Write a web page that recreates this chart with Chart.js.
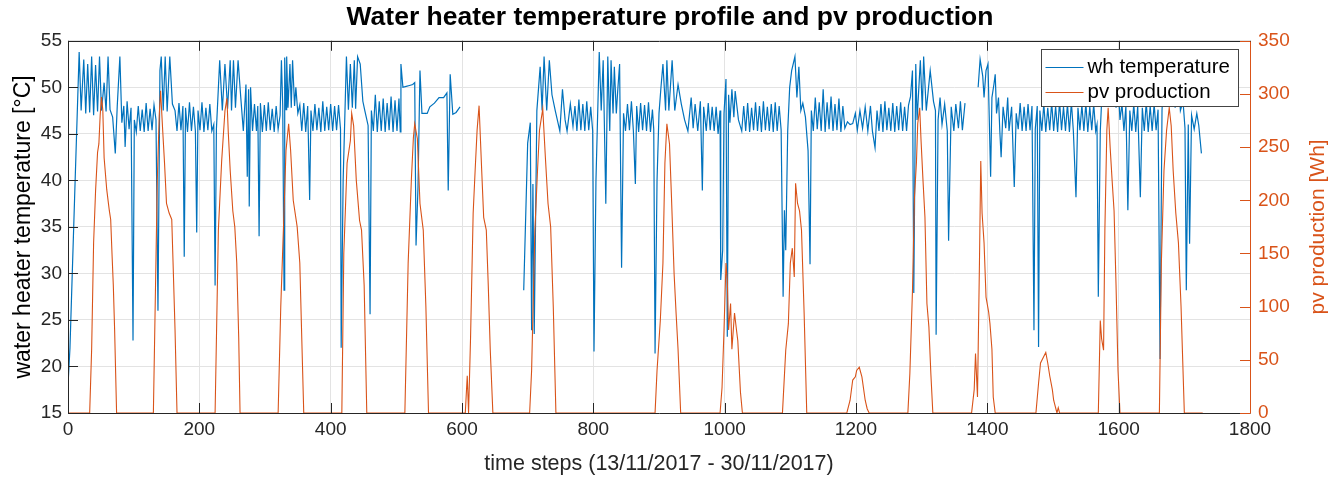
<!DOCTYPE html>
<html>
<head>
<meta charset="utf-8">
<script src="https://cdn.jsdelivr.net/npm/chart.js@4.4.1/dist/chart.umd.min.js"></script>
<style>
  html, body { margin: 0; padding: 0; background: #fff; }
  #whChart { display: block; }
</style>
</head>
<body>
<canvas id="whChart" width="1340" height="477"></canvas>
<script>
// water heater temperature (°C), one entry per time step listed in whSteps
// null marks the periods without logged temperature
const whSteps = [
  0, 3, 10, 17, 20, 24, 27, 30, 33, 36, 39, 42, 45, 48, 51, 55, 58, 61, 64, 68, 72, 75, 79, 82, 85, 87, 90, 93, 96, 99,
  101, 104, 107, 110, 113, 116, 119, 122, 125, 128, 131,
  134, 137, 140, 142, 145, 148, 151, 155, 159, 163, 166, 169, 172, 175, 177, 179, 182, 185, 188, 191, 194, 196, 198,
  201, 204, 207, 210, 213, 216, 219, 222, 224, 226,
  231, 235, 239, 243, 247, 249, 252, 255, 259, 263, 267, 271, 273, 275, 276, 278, 281, 284, 287, 289, 291, 293, 296,
  299, 302, 305, 308, 311, 314, 317, 320,
  323, 325, 327, 329, 330, 332, 333, 335, 338, 340, 342, 345, 347, 350, 353, 356, 359, 362, 365, 368, 370, 373, 376,
  379, 382, 385, 388, 391, 394, 397, 400, 403, 406, 409, 412, 415, 416,
  419, 424, 427, 430, 433, 436, 438, 441, 445, 449, 452, 457, 460, 462, 465, 468, 471, 474, 477, 480, 483, 486, 489,
  492, 495, 498, 501, 504, 506, 507, 510, 515, 520, 525, 528, 530, 533, 536, 539, 547, 551, 558, 565, 572, 577, 579,
  582, 586, 591, 597, 600,
  694, 700, 704, 706, 708, 710, 714, 719, 722, 725, 729, 733, 737, 742, 749, 753, 757, 760, 765, 769, 772, 775, 778,
  781, 784, 787, 790, 793, 796, 799, 801,
  804, 809, 812, 815, 817, 819, 822, 825, 827, 830, 832, 835, 837, 840, 843, 846, 849, 852, 855, 858, 861, 864, 866,
  869, 872, 875, 878, 881, 884, 887, 890, 892, 894, 897,
  900, 903, 906, 910, 912, 915, 920, 924, 929, 934, 939, 944, 949, 952, 955, 959, 963, 966, 968, 972, 975, 978, 981,
  984, 987, 990, 993, 994, 997, 999, 1002, 1004, 1006, 1008, 1011, 1014, 1016, 1021, 1026,
  1029, 1032, 1035, 1038, 1041, 1044, 1047, 1050, 1053, 1056, 1059, 1062, 1065, 1068, 1071, 1074, 1077, 1080, 1083,
  1086, 1089, 1091, 1093, 1096, 1099, 1102, 1107, 1110, 1113, 1116, 1119, 1123, 1127, 1130, 1132, 1135, 1138, 1141,
  1144, 1147, 1150, 1153, 1156, 1159, 1162, 1165, 1168, 1171, 1174, 1177, 1180, 1183, 1187, 1191, 1195, 1199, 1202,
  1206, 1210, 1214, 1218, 1222, 1225, 1229, 1232, 1235, 1238, 1241, 1244, 1247, 1250, 1253, 1256, 1259, 1262, 1265,
  1268, 1271, 1274, 1277, 1280,
  1283, 1286, 1288, 1291, 1293, 1298, 1301, 1303, 1307, 1313, 1318, 1321, 1322, 1325, 1328, 1331, 1335, 1339, 1341,
  1345, 1349, 1352, 1356, 1359, 1362, 1366, 1370,
  1386, 1389, 1393, 1395, 1398, 1401, 1405, 1407, 1410, 1412, 1414, 1417, 1419, 1421, 1424, 1428, 1431, 1433, 1437,
  1441, 1444, 1447, 1450, 1453, 1456, 1459, 1462, 1465, 1468, 1471, 1473, 1476, 1478, 1480, 1483, 1486, 1489, 1492,
  1495, 1498, 1501, 1504, 1507, 1510, 1513, 1516, 1519, 1522, 1525, 1528, 1531, 1535, 1538, 1541, 1544, 1547, 1550,
  1553, 1556, 1559, 1562, 1565, 1567, 1569, 1572,
  1575, 1578, 1582, 1585, 1589, 1592, 1596, 1599, 1602, 1605, 1608, 1611, 1614, 1617, 1620, 1623, 1626, 1629, 1633,
  1636, 1639, 1642, 1645, 1648, 1651, 1654, 1657, 1660, 1663, 1666, 1669, 1672, 1675, 1678, 1682, 1686, 1690, 1694,
  1698, 1701, 1703, 1706, 1708, 1711, 1715, 1719, 1722, 1726
];
const whTemp = [
  18, 22, 38, 53.8, 47.5, 53, 47.2, 52.5, 47.3, 53.3, 47, 52.4, 47.4, 53.3, 47.5, 50.5, 47.4, 53.3, 47.6, 46.8, 42.9, 48, 53.3, 46.2, 48, 43.6, 48.5, 45.5, 47.8, 22.8,
  46.5, 45.2, 48, 45.3, 47.6, 45.2, 48.3, 45.3, 47.7, 45.4, 48.1,
  46.5, 26, 51.8, 53.3, 47.5, 53.3, 47.4, 53.3, 48.2, 47.5, 45.3, 48.3, 45.4, 48, 31.8, 47.8, 45.2, 48.4, 45.3, 47.9, 45.3, 34.4, 47.5,
  45.4, 48.4, 45.2, 47.8, 45.4, 48.2, 45.3, 46, 28.7, 45.5,
  52.9, 47.5, 52.5, 47.7, 52.9, 47.5, 52.9, 47.8, 52.9, 49, 45.3, 50.3, 40.4, 49.8, 37.2, 50, 45.3, 48.2, 45.3, 48, 34, 48.3, 45.2,
  48.1, 45.3, 48.4, 45.4, 47.7, 45.2, 48, 45.5,
  47, 52.9, 48, 28.2, 53.2, 47.6, 53.3, 47.8, 52.5, 47.8, 52.9, 48, 50, 47.2, 48.1, 45.3, 48.3, 45.2, 48, 37.9, 47.5, 45.3, 48.2,
  45.4, 47.8, 45.2, 48.5, 45.3, 47.9, 45.4, 48.2, 45.3, 48, 45.4, 48.1, 45.5, 22,
  40, 53.3, 47.6, 52.5, 47.8, 52.9, 47.7, 53.3, 52.5, 48.5, 47.5, 45.9, 25.6, 47.5, 45.3, 49.2, 45.2, 48.5, 45.3, 48.8, 45.2, 48.3, 45.4,
  49, 45.2, 48.6, 45.3, 48.8, 45.2, 52.5, 50, 50.1, 50.2, 50.3, 50.5, 33, 39.3, 51.8, 47.2, 47.2, 47.9, 48.3, 48.9, 48.9, 49.4, 38.9,
  51.4, 47.1, 47.3, 47.9, null,
  28.2, 44, 46.2, 23.9, 39.6, 23.5, 47.5, 52.2, 47.5, 53.3, 47.5, 52.9, 49.2, 47.5, 45.3, 49.8, 46.5, 45.3, 48.2, 45.8, 48, 45.3, 48.7,
  45.4, 48.2, 45.3, 48.5, 45.4, 47.9, 45.3, 21.6,
  40, 53.8, 47.5, 52.9, 45.3, 37.5, 53.3, 45.3, 52.9, 47.2, 52.2, 47.2, 49.5, 52.5, 30.6, 47.2, 45.3, 48.2, 45.4, 48.5, 45.3, 39.6, 48,
  45.2, 48.3, 45.4, 48.1, 45.3, 48.4, 45.2, 47.6, 45.5, 21.4, 40,
  47.2, 50, 52.5, 47.5, 52.9, 47.5, 52.9, 47.5, 50.3, 48.2, 46.5, 45.3, 48.9, 45.6, 48.2, 45.3, 48.5, 38.9, 47.9, 45.3, 48.3, 45.4, 47.9,
  45.3, 47.9, 45, 47.5, 29.3, 32.5, 47.2, 50.9, 23.2, 49.2, 46.2, 49.8, 46.8, 49.6, 46.5, 45.3,
  48, 45.3, 48.3, 45.2, 47.8, 45.4, 48.4, 45.3, 48, 45.2, 48.5, 45.4, 47.9, 45.3, 48.2, 45.2, 48.4, 45.3, 48,
  45.4, 27.5, 36.8, 32.5, 45.3, 50, 51.8, 53.3, 48.9, 52.2, 47.5, 48.3, 46.8, 43.2, 31, 47.5, 45.3, 48.9, 45.5,
  48.4, 45.3, 49.8, 45.2, 48.4, 45.5, 49, 45.3, 48.2, 45.4, 48.8, 45.2, 48, 45.6, 46.3, 46, 46.1, 47.2, 45.4,
  47.5, 45.6, 47.9, 45.3, 48, 45.3, 43.5, 47.5, 45.3, 48.2, 45.2, 48.5, 45.4, 47.8, 45.3, 48.3, 45.2, 48, 45.4,
  48.4, 45.3, 47.9, 45.3, 48.1,
  49, 51.8, 27.9, 52.5, 46.5, 52.9, 47.5, 53.3, 47.5, 51.8, 48.5, 47.5, 23.4, 46.5, 48.9, 46, 48.2, 45.3, 33.5,
  47.9, 45.3, 48.2, 45.6, 48.5, 45.4, 48.3, null,
  50, 53, 51.2, 48.9, 51.8, 52.5, 40.4, 48.9, 50.3, 51.4, 47.2, 48.9, 45.3, 42.5, 47.9, 45.6, 48.9, 45.3, 47.9,
  39.3, 47.2, 45.5, 48.3, 45.3, 47.9, 45.3, 48.2, 45.4, 48, 23.9, 45.5, 48, 22.1, 47.5, 45.3, 48.2, 45.2, 47.8,
  45.4, 48.4, 45.3, 48, 45.2, 48.5, 45.4, 47.9, 45.3, 48.2, 45.2, 48.4, 45.3, 38.2, 47.8, 45.4, 48.1, 45.3, 48.3,
  45.2, 47.9, 45.4, 48.2, 45.3, 46, 27.5, 45.3,
  50, 53, 48, 53.2, 48, 52.8, 47.8, 50.5, 46.5, 48.2, 45.3, 48, 36.8, 47.5, 45.3, 48.2, 45.2, 48, 38.2,
  47.8, 45.3, 48.4, 45.2, 48, 45.3, 48.2, 45.4, 47.6, 20.8, 47.5, 52, 48, 53.2, 48, 53, 47.8, 52.5, 47.5,
  48.5, 45.6, 28.2, 46, 33.2, 47, 45.5, 47.2, 45.9, 42.9
];

// pv production (Wh) per time step listed in pvSteps
const pvSteps = [
  0, 33, 36, 39, 42, 45, 47, 49, 51, 53, 55, 57, 59, 61, 63, 65, 67, 69, 71, 74,
  130, 133, 136, 139, 141, 144, 147, 150, 154, 158, 160, 163, 166,
  224, 229, 234, 239, 242, 244, 247, 251, 254, 257, 260, 262,
  320, 324, 328, 332, 336, 339, 343, 349, 353, 356, 359,
  417, 420, 425, 430, 432, 435, 439, 444, 447, 451, 455,
  513, 518, 523, 526, 528, 532, 536, 541, 545, 549,
  605, 608, 610, 613, 617, 620, 623, 626, 630, 633, 637, 640, 643, 647,
  703, 706, 711, 715, 718, 723, 727, 731, 735, 739, 743,
  894, 897, 902, 906, 909, 912, 916, 919, 923, 926, 929, 933,
  993, 996, 999, 1002, 1004, 1006, 1009, 1011, 1015, 1018, 1020, 1024, 1027,
  1088, 1093, 1097, 1100, 1103, 1106, 1108, 1111, 1114, 1117, 1121, 1125,
  1186, 1191, 1195, 1199, 1201, 1205, 1209, 1214, 1217, 1220,
  1279, 1282, 1286, 1289, 1292, 1294, 1297, 1299, 1302, 1305, 1308, 1311, 1314, 1317,
  1376, 1380, 1382, 1385, 1388, 1390, 1392, 1395, 1398, 1402, 1404, 1407, 1409, 1412,
  1474, 1478, 1481, 1485, 1489, 1492, 1495, 1499, 1501, 1506, 1508, 1510,
  1569, 1572, 1574, 1577, 1579, 1582, 1584, 1587, 1590, 1593, 1596, 1599, 1602,
  1662, 1665, 1669, 1673, 1677, 1680, 1683, 1687, 1691, 1695, 1700, 1728
];
const pvPower = [
  0, 0, 60, 160, 209, 245, 253, 280, 297, 285, 240, 225, 210, 200, 190, 182, 150, 120, 78, 0,
  0, 109, 219, 281, 303, 268, 235, 197, 188, 182, 141, 78, 0,
  0, 172, 237, 284, 296, 265, 228, 190, 175, 141, 70, 0,
  0, 100, 172, 247, 272, 247, 200, 175, 141, 70, 0,
  0, 150, 235, 256, 282, 270, 219, 181, 172, 120, 0,
  0, 141, 221, 259, 272, 258, 197, 172, 100, 0,
  0, 35, 0, 70, 188, 228, 266, 289, 228, 184, 172, 120, 60, 0,
  0, 40, 172, 228, 266, 286, 240, 197, 175, 100, 0,
  0, 40, 87, 141, 235, 272, 253, 203, 131, 94, 60, 0,
  0, 24, 78, 141, 125, 78, 103, 60, 94, 78, 68, 20, 0,
  0, 59, 84, 141, 155, 128, 216, 197, 190, 172, 94, 0,
  0, 12, 31, 34, 40, 43, 34, 12, 4, 0,
  0, 37, 115, 203, 235, 272, 287, 257, 219, 184, 103, 81, 37, 0,
  0, 22, 56, 15, 141, 237, 188, 160, 109, 95, 84, 60, 15, 0,
  0, 28, 47, 52, 57, 47, 35, 22, 12, 0, 5, 0,
  0, 87, 70, 59, 172, 266, 287, 250, 219, 190, 120, 40, 0,
  0, 141, 228, 266, 287, 270, 228, 188, 160, 100, 0, 0
];

const tempTicks = [15, 20, 25, 30, 35, 40, 45, 50, 55];
const pvTicks = [0, 50, 100, 150, 200, 250, 300, 350];

const BLUE = "#0072BD";
const ORANGE = "#D95319";
const AXIS = "#262626";
const FONT = "'Liberation Sans', Arial, Helvetica, sans-serif";

// box, inward tick marks, right axis label and legend, drawn over the plot
const matlabFrame = {
  id: "matlabFrame",
  afterDraw(chart) {
    const { ctx, chartArea: a, scales } = chart;
    const tl = 10;
    ctx.save();
    ctx.lineWidth = 1;

    const seg = (x1, y1, x2, y2) => {
      ctx.beginPath();
      ctx.moveTo(x1, y1);
      ctx.lineTo(x2, y2);
      ctx.stroke();
    };

    ctx.strokeStyle = AXIS;
    scales.x.ticks.forEach(t => {
      const px = Math.round(scales.x.getPixelForValue(t.value)) + 0.5;
      seg(px, a.bottom, px, a.bottom - tl);
      seg(px, a.top, px, a.top + tl);
    });
    scales.y.ticks.forEach(t => {
      const py = Math.round(scales.y.getPixelForValue(t.value)) + 0.5;
      seg(a.left, py, a.left + tl, py);
    });
    const L = Math.round(a.left) + 0.5, R = Math.round(a.right) + 0.5;
    const T = Math.round(a.top) + 0.5, B = Math.round(a.bottom) + 0.5;
    seg(L, T, R, T);
    seg(L, T, L, B);
    seg(L, B, R, B);

    ctx.strokeStyle = ORANGE;
    scales.y1.ticks.forEach(t => {
      const py = Math.round(scales.y1.getPixelForValue(t.value)) + 0.5;
      seg(a.right, py, a.right - tl, py);
    });
    seg(R, T, R, B);

    // right axis label, read bottom to top
    ctx.fillStyle = ORANGE;
    ctx.font = "21px " + FONT;
    ctx.textAlign = "center";
    ctx.textBaseline = "middle";
    ctx.translate(a.right + 68, (a.top + a.bottom) / 2);
    ctx.rotate(-Math.PI / 2);
    ctx.fillText("pv production [Wh]", 0, 0);
    ctx.setTransform(1, 0, 0, 1, 0, 0);

    // legend box in the upper right corner
    const bx = 1041.5, by = 49.5, bw = 197, bh = 57;
    ctx.fillStyle = "#fff";
    ctx.fillRect(bx, by, bw, bh);
    ctx.strokeStyle = "#444";
    ctx.strokeRect(bx, by, bw, bh);
    ctx.font = "20.5px " + FONT;
    ctx.textAlign = "left";
    chart.data.datasets.forEach((ds, i) => {
      const ly = by + 17 + i * 25;
      ctx.strokeStyle = ds.borderColor;
      seg(bx + 4, Math.round(ly) + 0.5, bx + 42, Math.round(ly) + 0.5);
      ctx.fillStyle = "#000";
      ctx.fillText(ds.label, bx + 46, ly + 1);
    });
    ctx.restore();
  }
};

new Chart(document.getElementById("whChart"), {
  type: "line",
  data: {
    datasets: [
      {
        label: "wh temperature",
        data: whSteps.map((s, i) => ({ x: s, y: whTemp[i] })),
        yAxisID: "y",
        borderColor: BLUE,
        borderWidth: 1.2,
        pointRadius: 0,
        spanGaps: false,
        order: 1
      },
      {
        label: "pv production",
        data: pvSteps.map((s, i) => ({ x: s, y: pvPower[i] })),
        yAxisID: "y1",
        borderColor: ORANGE,
        borderWidth: 1.1,
        pointRadius: 0,
        order: 0
      }
    ]
  },
  options: {
    responsive: false,
    animation: false,
    layout: { padding: 0 },
    plugins: {
      legend: { display: false },
      tooltip: { enabled: false },
      title: {
        display: true,
        text: "Water heater temperature profile and pv production",
        color: "#000",
        font: { family: FONT, size: 26.5, weight: "bold" },
        padding: { top: 2, bottom: 7 }
      }
    },
    scales: {
      x: {
        type: "linear",
        min: 0,
        max: 1800,
        ticks: {
          stepSize: 200,
          color: AXIS,
          font: { family: FONT, size: 19 },
          padding: 5,
          maxRotation: 0,
          callback: v => String(v)
        },
        grid: { color: "#E3E3E3", drawTicks: false },
        border: { display: false },
        title: {
          display: true,
          text: "time steps (13/11/2017 - 30/11/2017)",
          color: AXIS,
          font: { family: FONT, size: 21.5 },
          padding: { top: 0, bottom: 0 }
        },
        afterFit: s => { s.height = 64; }
      },
      y: {
        position: "left",
        min: 15,
        max: 55,
        afterBuildTicks: s => { s.ticks = tempTicks.map(v => ({ value: v })); },
        ticks: { color: AXIS, font: { family: FONT, size: 19 }, padding: 6 },
        grid: { color: "#E3E3E3", drawTicks: false },
        border: { display: false },
        title: {
          display: true,
          text: "water heater temperature [°C]",
          color: "#000",
          font: { family: FONT, size: 23 },
          padding: { top: 10, bottom: 0 }
        },
        afterFit: s => { s.width = 68; }
      },
      y1: {
        position: "right",
        min: 0,
        max: 350,
        afterBuildTicks: s => { s.ticks = pvTicks.map(v => ({ value: v })); },
        ticks: { color: ORANGE, font: { family: FONT, size: 19 }, padding: 8 },
        grid: { drawOnChartArea: false, drawTicks: false },
        border: { display: false },
        afterFit: s => { s.width = 90; }
      }
    }
  },
  plugins: [matlabFrame]
});
</script>
</body>
</html>
